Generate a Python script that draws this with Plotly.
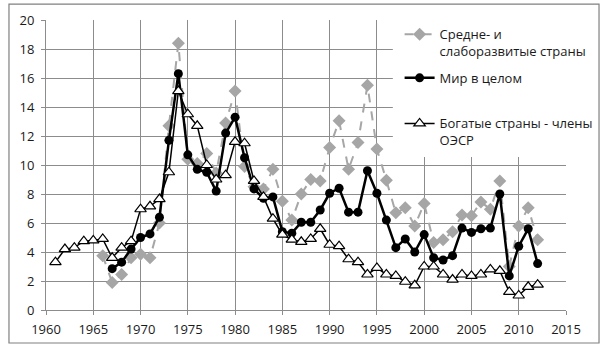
import plotly.graph_objects as go

years_oecd = list(range(1961, 2013))
oecd = [3.3, 4.2, 4.3, 4.75, 4.8, 4.9, 3.6, 4.3, 4.75, 6.95, 7.15, 7.65, 9.5, 15.1, 13.5,
        12.7, 10.0, 9.0, 9.3, 11.6, 11.5, 8.9, 7.8, 6.3, 5.2, 4.85, 4.7, 4.9, 5.6, 4.5,
        4.4, 3.5, 3.3, 2.45, 2.9, 2.45, 2.35, 1.95, 1.7, 3.0, 3.0, 2.45, 2.1, 2.45, 2.35,
        2.45, 2.8, 2.7, 1.25, 1.0, 1.6, 1.75]

years_world = list(range(1967, 2013))
world = [2.85, 3.3, 4.2, 5.0, 5.25, 6.4, 11.7, 16.3, 10.7, 9.7, 9.5, 8.2, 12.2, 13.3,
         10.5, 8.35, 7.7, 7.8, 5.4, 5.3, 6.05, 6.05, 6.9, 8.05, 8.4, 6.75, 6.75, 9.6, 8.05,
         6.2, 4.3, 4.9, 4.0, 5.2, 3.6, 3.45, 3.75, 5.65, 5.35, 5.6, 5.65, 8.0, 2.35, 4.4,
         5.6, 3.2]

years_dev = list(range(1966, 2013))
dev = [3.75, 1.9, 2.45, 3.6, 3.85, 3.6, 6.0, 12.7, 18.4, 10.4, 10.1, 10.8, 9.45, 12.9,
       15.1, 9.9, 8.5, 8.35, 9.7, 7.5, 6.2, 8.0, 9.0, 8.9, 11.2, 13.05, 9.7, 11.55, 15.5,
       11.1, 8.95, 6.7, 7.05, 5.8, 7.35, 4.65, 4.85, 5.4, 6.55, 6.5, 7.45, 6.95, 8.9, 3.0,
       5.8, 7.05, 4.85]

names = ["Средне- и<br>слаборазвитые страны", "Мир в целом", "Богатые страны - члены<br>ОЭСР"]
x_ticks = list(range(1960, 2016, 5))
y_ticks = list(range(0, 21, 2))

FONT = "Open Sans, Noto Sans, sans-serif"
TXT = "#1a1a1a"
GRID = "#8c8c8c"

fig = go.Figure()
fig.add_trace(go.Scatter(
    x=years_dev, y=dev, name=names[0], mode="lines+markers", legend="legend",
    line=dict(color="#a6a6a6", width=2, dash="dash"),
    marker=dict(symbol="diamond", size=10, color="#a6a6a6"),
))
fig.add_trace(go.Scatter(
    x=years_world, y=world, name=names[1], mode="lines+markers", legend="legend2",
    line=dict(color="#000000", width=2.5),
    marker=dict(symbol="circle", size=9, color="#000000"),
))
fig.add_trace(go.Scatter(
    x=years_oecd, y=oecd, name=names[2], mode="lines+markers", legend="legend3",
    line=dict(color="#000000", width=1.5),
    marker=dict(symbol="triangle-up", size=10, color="#ffffff",
                line=dict(color="#000000", width=1.2)),
))

leg_common = dict(x=0.68, xanchor="left", yanchor="top", bgcolor="rgba(0,0,0,0)",
                  borderwidth=0, font=dict(family=FONT, size=13, color=TXT), valign="top")

fig.update_layout(
    width=612, height=356,
    margin=dict(l=46, r=46, t=20, b=46),
    paper_bgcolor="white", plot_bgcolor="white",
    font=dict(family=FONT, size=13, color=TXT),
    showlegend=True,
    legend=dict(y=1.002, **leg_common),
    legend2=dict(y=0.852, **leg_common),
    legend3=dict(y=0.695, **leg_common),
    shapes=[
        dict(type="rect", xref="paper", yref="paper",
             x0=-0.0712, x1=1.0635, y0=-0.1138, y1=1.055,
             line=dict(color="#808080", width=1.2), fillcolor="rgba(0,0,0,0)",
             layer="below"),
        dict(type="rect", xref="paper", yref="paper",
             x0=0.667, x1=1.05, y0=0.528, y1=1.01,
             line=dict(width=0), fillcolor="white", layer="above"),
    ],
)

fig.update_xaxes(
    range=[1960, 2015], tickvals=x_ticks, ticktext=[str(v) for v in x_ticks],
    showgrid=True, gridcolor=GRID, gridwidth=1,
    showline=True, linecolor=GRID, linewidth=1,
    ticks="outside", ticklen=4, tickcolor=GRID,
    zeroline=False, tickfont=dict(size=13), ticklabelstandoff=3,
)
fig.update_yaxes(
    range=[0, 20], tickvals=y_ticks, ticktext=[str(v) for v in y_ticks],
    showgrid=True, gridcolor=GRID, gridwidth=1,
    showline=True, linecolor=GRID, linewidth=1,
    ticks="outside", ticklen=4, tickcolor=GRID,
    zeroline=False, tickfont=dict(size=13), ticklabelstandoff=4,
)

fig.write_html("out.html", config={"displayModeBar": False},
               post_script="document.body.style.margin='0';")
